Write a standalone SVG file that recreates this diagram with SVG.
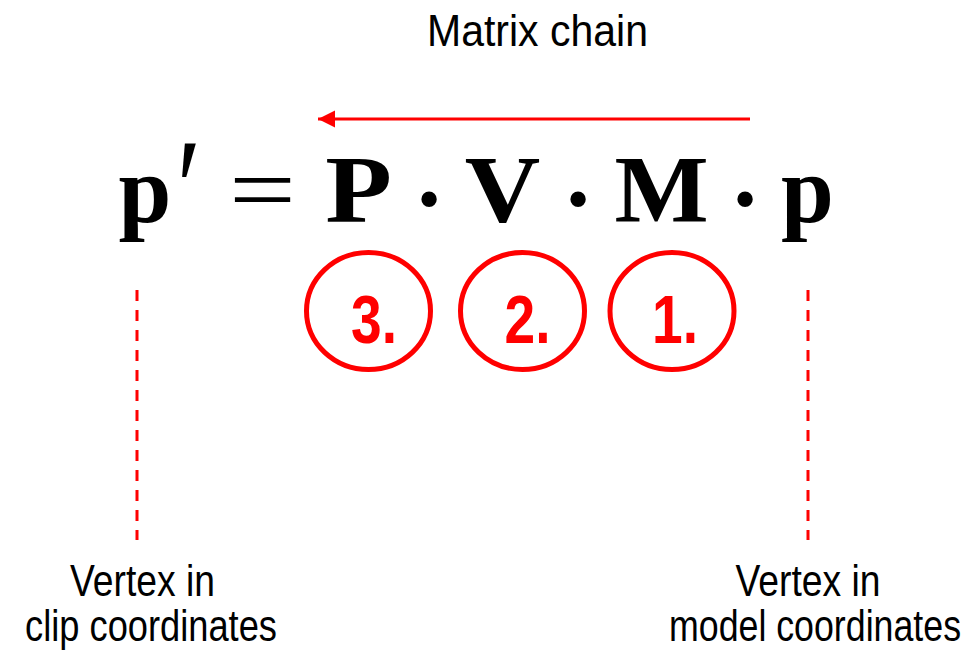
<svg xmlns="http://www.w3.org/2000/svg" width="971" height="656" viewBox="0 0 971 656">
<defs>
<style>
.lbl{font-family:"Liberation Sans",Arial,sans-serif;font-size:44px;fill:#000;text-anchor:middle}
.math{font-family:"Liberation Serif","Times New Roman",serif;font-size:95px;font-weight:bold;fill:#000;text-anchor:middle}
.mrm{font-family:"Liberation Serif","Times New Roman",serif;font-size:95px;fill:#000;text-anchor:middle}
.num{font-family:"Liberation Sans",Arial,sans-serif;font-size:68px;font-weight:bold;fill:#FF0000;text-anchor:middle}
.ring{fill:none;stroke:#FF0000;stroke-width:5}
.dash{stroke:#FF0000;stroke-width:3;stroke-dasharray:11 9;fill:none}
</style>
<marker id="ah" markerUnits="userSpaceOnUse" markerWidth="18" markerHeight="18" refX="17" refY="9" orient="auto">
<polygon points="0,0.5 17,9 0,17.5" fill="#FF0000"/>
</marker>
</defs>
<rect width="971" height="656" fill="#fff"/>
<g id="title"><text class="lbl" x="537.5" y="46" font-size="46" textLength="221" lengthAdjust="spacingAndGlyphs">Matrix chain</text></g>
<g id="connectors">
<line x1="750" y1="119" x2="318" y2="119" stroke="#FF0000" stroke-width="3" marker-end="url(#ah)"/>
<line class="dash" x1="137" y1="290" x2="137" y2="540"/>
<line class="dash" x1="808" y1="290" x2="808" y2="540"/>
</g>
<g id="formula">
<text class="math" transform="translate(145,222)">p</text>
<text class="mrm" transform="translate(189,237) scale(1.2,1.5)" font-size="135">′</text>
<text class="mrm" transform="translate(262.5,222) scale(1.25,1)">=</text>
<text class="math" transform="translate(358.5,222) scale(1.15,1)">P</text>
<text class="math" transform="translate(429,231)">·</text>
<text class="math" transform="translate(502.5,222) scale(1.1,1)">V</text>
<text class="math" transform="translate(578,231)">·</text>
<text class="math" transform="translate(661.5,222) scale(1.05,1)">M</text>
<text class="math" transform="translate(745,231)">·</text>
<text class="math" transform="translate(807.5,222)">p</text>
</g>
<g id="step3"><ellipse class="ring" cx="368.5" cy="311" rx="62" ry="58.5"/><text class="num" x="374" y="343" textLength="46" lengthAdjust="spacingAndGlyphs">3.</text></g>
<g id="step2"><ellipse class="ring" cx="522.5" cy="311" rx="62" ry="58.5"/><text class="num" x="527.5" y="343" textLength="46" lengthAdjust="spacingAndGlyphs">2.</text></g>
<g id="step1"><ellipse class="ring" cx="672" cy="311" rx="62" ry="58.5"/><text class="num" x="675" y="343" textLength="46" lengthAdjust="spacingAndGlyphs">1.</text></g>
<g id="clip-label">
<text class="lbl" x="142.5" y="596" textLength="145" lengthAdjust="spacingAndGlyphs">Vertex in</text>
<text class="lbl" x="151" y="641" textLength="252" lengthAdjust="spacingAndGlyphs">clip coordinates</text>
</g>
<g id="model-label">
<text class="lbl" x="808" y="596" textLength="145" lengthAdjust="spacingAndGlyphs">Vertex in</text>
<text class="lbl" x="815" y="641" textLength="292" lengthAdjust="spacingAndGlyphs">model coordinates</text>
</g>
</svg>
